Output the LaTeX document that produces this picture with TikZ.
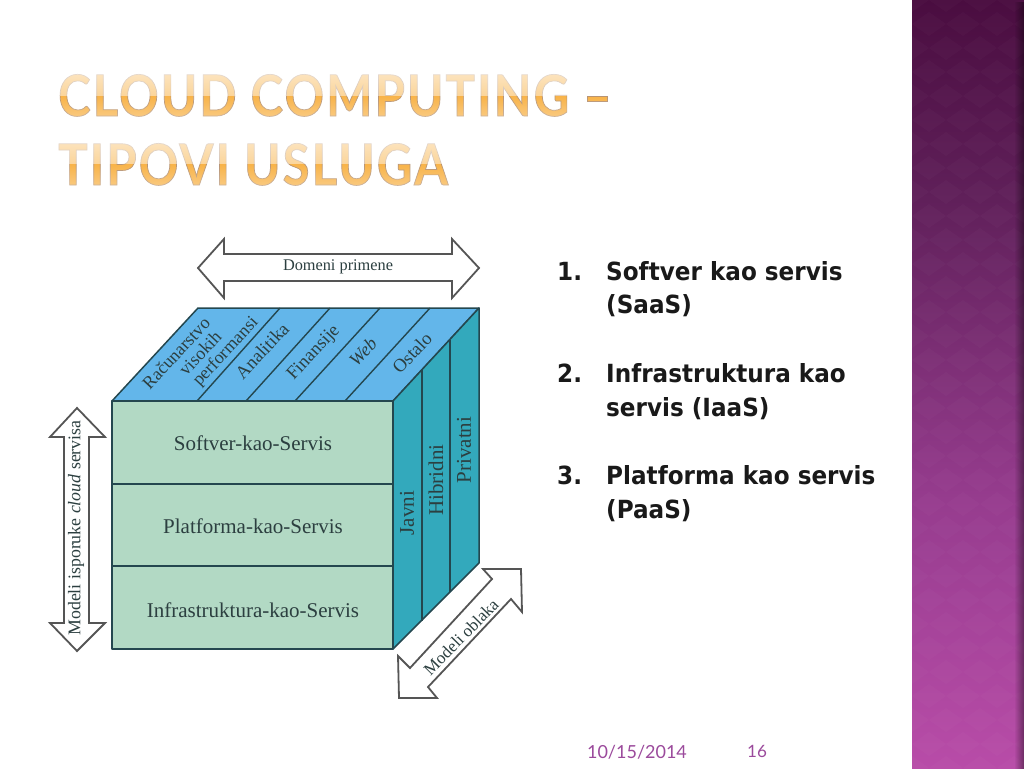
\documentclass[tikz,border=0pt]{standalone}
\usepackage{fontspec}
\usetikzlibrary{fadings}
\setmainfont{Liberation Serif}
\newfontfamily\titlefont[LetterSpace=3.7,FakeStretch=0.86]{Lato Bold}
\newfontfamily\bodyfont[FakeStretch=0.925]{DejaVu Sans Bold}
\newfontfamily\footfont{Lato}
\definecolor{topblue}{HTML}{63B6EA}
\definecolor{frontgreen}{HTML}{B2D9C4}
\definecolor{sideteal}{HTML}{33A9BC}
\definecolor{edgecol}{HTML}{24474F}
\definecolor{arrowcol}{HTML}{555555}
\definecolor{inkcol}{HTML}{2C3F40}
\definecolor{titleorange}{HTML}{F8B349}
\definecolor{footpurple}{HTML}{9B4A9C}
\definecolor{barA}{HTML}{4A0D40}
\definecolor{barB}{HTML}{60205A}
\definecolor{barC}{HTML}{963C8E}
\definecolor{barD}{HTML}{B84CA8}
\pgfdeclareverticalshading{barshade}{100bp}{
  color(0bp)=(barD); color(25bp)=(barD); color(42.5bp)=(barC); color(62bp)=(barB); color(75bp)=(barA); color(100bp)=(barA)}
\tikzfading[name=titleupper, top color=transparent!35, bottom color=transparent!55]
\tikzfading[name=titlelower, top color=transparent!100, bottom color=transparent!68]
\tikzfading[name=edgefade, left color=transparent!100, right color=transparent!25]
\newcommand{\outlineon}{\special{pdf:literal direct 2 Tr 0.7 w 0.72 0.58 0.45 RG}}
\newcommand{\outlineoff}{\special{pdf:literal direct 0 Tr}}
\tikzset{
  face/.style={draw=edgecol,line width=1.5pt,line join=round},
  bigarrow/.style={draw=arrowcol,fill=white,line width=1.8pt,line join=miter},
  divider/.style={draw=edgecol,line width=1.4pt},
  serif/.style={inner sep=0pt,text=inkcol,font=\fontsize{#1}{#1}\selectfont},
  titleline/.style={anchor=base west,inner sep=0pt,text=titleorange,font=\titlefont\fontsize{57}{57}\selectfont},
  listitem/.style={anchor=base west,inner sep=0pt,text=black!90,font=\bodyfont\fontsize{25}{25}\selectfont},
  footer/.style={inner sep=0pt,text=footpurple,font=\footfont\fontsize{#1}{#1}\selectfont},
}
\begin{document}
\begin{tikzpicture}[x=1pt,y=-1pt]
\useasboundingbox (0,0) rectangle (1024,768);
\fill[white] (0,0) rectangle (1024,768);
% sidebar
\begin{scope}
\clip (912,0) rectangle (1024,768);
\shade[shading=barshade] (912,0) rectangle (1024,768);
\foreach \r in {0,...,32}{
  \foreach \c in {0,...,5}{
    \pgfmathsetmacro{\xx}{912+\c*34+mod(\r,2)*17}
    \pgfmathsetmacro{\yy}{\r*24}
    \fill[white,opacity=0.018] (\xx,\yy-12) -- (\xx+17,\yy) -- (\xx,\yy+12) -- (\xx-17,\yy) -- cycle;
  }
}
\fill[black,path fading=edgefade,opacity=0.55] (1014,0) rectangle (1024,768);
\end{scope}
% title
\node[titleline] (t1) at (58,116) {\outlineon CLOUD COMPUTING –\outlineoff};
\node[titleline] (t2) at (58,185) {\outlineon TIPOVI USLUGA\outlineoff};
\fill[white,path fading=titleupper] (50,73) rectangle (620,96);
\fill[white,path fading=titlelower] (50,96) rectangle (620,118);
\fill[white,path fading=titleupper] (50,141) rectangle (620,164);
\fill[white,path fading=titlelower] (50,164) rectangle (620,187);
% cube faces
\draw[face,fill=topblue] (112,401) -- (198,308) -- (479,308) -- (393,401) -- cycle;
\draw[face,fill=sideteal] (393,401) -- (479,308) -- (479,563) -- (393,649) -- cycle;
\draw[face,fill=frontgreen] (112,401) rectangle (393,649);
\draw[divider] (112,484) -- (393,484);
\draw[divider] (112,566) -- (393,566);
\draw[divider] (197,401) -- (280,308);
\draw[divider] (246,401) -- (330,308);
\draw[divider] (295,401) -- (380,308);
\draw[divider] (345,401) -- (430,308);
\draw[divider] (422,370) -- (422,621);
\draw[divider] (450,340) -- (450,592);
% big arrows
\draw[bigarrow] (198,268) -- (224,239) -- (224,254) -- (452,254) -- (452,239) -- (479,268) -- (452,298) -- (452,281) -- (224,281) -- (224,298) -- cycle;
\draw[bigarrow] (77,408) -- (105,437) -- (89,437) -- (89,623) -- (105,623) -- (77,651) -- (50,623) -- (64,623) -- (64,437) -- (50,437) -- cycle;
\draw[bigarrow] (521,569) -- (483,569) -- (492,579) -- (410,668) -- (398,656) -- (399,698) -- (437,698) -- (428,687) -- (511,599) -- (522,612) -- cycle;
% diagram labels
\node[serif=16.3] (domeni) at (338,267) {Domeni primene};
\node[serif=21] (saas) at (253,443) {Softver-kao-Servis};
\node[serif=21] (paas) at (253,526) {Platforma-kao-Servis};
\node[serif=21] (iaas) at (253,610) {Infrastruktura-kao-Servis};
\node[serif=18,rotate=47] (hpca) at (176,353) {Računarstvo};
\node[serif=18,rotate=47] (hpcb) at (200,353) {visokih};
\node[serif=18,rotate=47] (hpcc) at (226,352) {performansi};
\node[serif=18.5,rotate=47] (anal) at (262,351) {Analitika};
\node[serif=18.5,rotate=47] (fin) at (314,353) {Finansije};
\node[serif=18.5,rotate=47] (web) at (363,352) {\itshape Web};
\node[serif=18.5,rotate=47] (ost) at (412,353) {Ostalo};
\node[serif=21,rotate=90] (javni) at (407,513) {Javni};
\node[serif=21,rotate=90] (hib) at (436,480) {Hibridni};
\node[serif=21,rotate=90] (priv) at (464,450) {Privatni};
\node[serif=17.8,rotate=90] (modeli) at (76,528) {Modeli isporuke \itshape cloud \upshape servisa};
\node[serif=17,rotate=45.5] (oblaka) at (461,637) {Modeli oblaka};
% list
\node[listitem] (n1) at (557,280) {1.};
\node[listitem] (l1) at (606,280) {Softver kao servis};
\node[listitem] (l1b) at (606,313) {(SaaS)};
\node[listitem] (n2) at (557,382) {2.};
\node[listitem] (l2) at (606,382) {Infrastruktura kao};
\node[listitem] (l2b) at (606,416) {servis (IaaS)};
\node[listitem] (n3) at (557,484) {3.};
\node[listitem] (l3) at (606,484) {Platforma kao servis};
\node[listitem] (l3b) at (606,518) {(PaaS)};
% footer
\node[footer=18] (date) at (637,752) {10/15/2014};
\node[footer=17] (page) at (757,751) {16};
\end{tikzpicture}
\end{document}
